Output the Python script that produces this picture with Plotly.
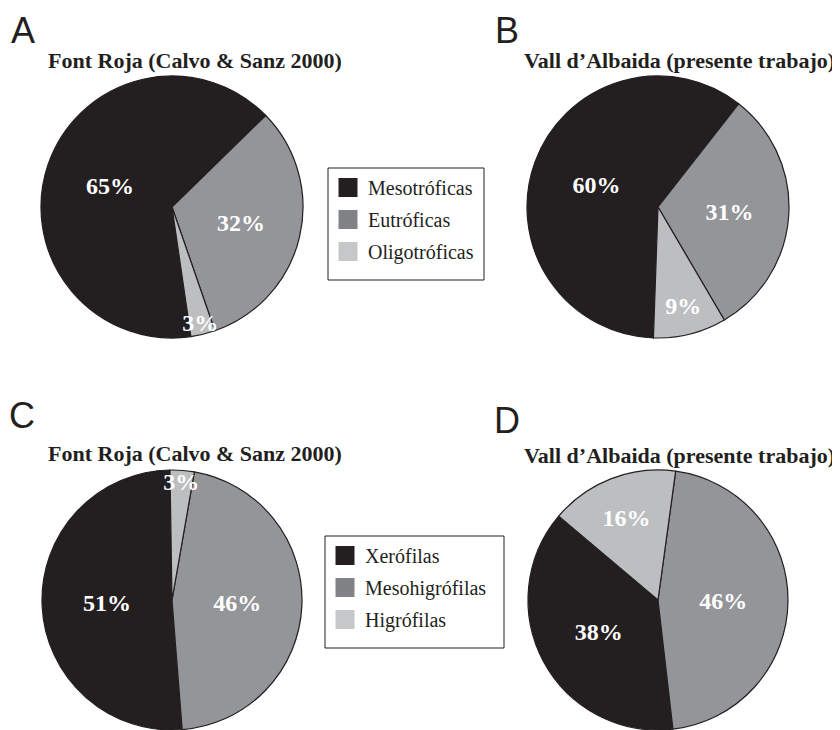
import plotly.graph_objects as go

# ---- data ----
trophic_labels = ["Mesotróficas", "Eutróficas", "Oligotróficas"]
font_roja_trophic = [65, 32, 3]
vall_trophic = [60, 31, 9]

humidity_labels = ["Xerófilas", "Mesohigrófilas", "Higrófilas"]
font_roja_humidity = [51, 46, 3]
vall_humidity = [38, 46, 16]

titles = ["Font Roja (Calvo & Sanz 2000)", "Vall d\u2019Albaida (presente trabajo)",
          "Font Roja (Calvo & Sanz 2000)", "Vall d\u2019Albaida (presente trabajo)"]
panel_letters = ["A", "B", "C", "D"]

# ---- style ----
W, H = 840, 730
OFF = 8  # page body margin offset
pie_colors = ["#231f20", "#939598", "#bcbec0"]
legend_colors = ["#231f20", "#808285", "#c6c7c9"]
SERIF = "Liberation Serif"
SANS = "Liberation Sans"
INK = "#231f20"

def px(x):
    return (x - OFF) / W

def py(y):
    return 1 - (y - OFF) / H

def dom(cx, cy, r):
    return dict(x=[px(cx - r), px(cx + r)], y=[py(cy + r), py(cy - r)])

panels = [
    (trophic_labels, font_roja_trophic, dom(172, 207, 131), "clockwise", 171.7),
    (trophic_labels, vall_trophic, dom(658, 207, 131), "clockwise", -178),
    (humidity_labels, font_roja_humidity, dom(172, 600, 130), "counterclockwise", 175.5),
    (humidity_labels, vall_humidity, dom(658, 600, 130), "counterclockwise", 173.4),
]

fig = go.Figure()
for labels, vals, d, direction, rot in panels:
    fig.add_trace(go.Pie(
        labels=labels, values=vals, domain=d, sort=False,
        direction=direction, rotation=rot, showlegend=False,
        marker=dict(colors=pie_colors, line=dict(color=INK, width=1.2)),
        texttemplate="%{value}%", textposition="inside",
        insidetextorientation="horizontal",
        textfont=dict(family=SERIF, size=24, color="white", weight="bold"),
        hoverinfo="label+value",
    ))

# legend entries (square markers)
for legname, labs in (("legend", trophic_labels), ("legend2", humidity_labels)):
    for lab, col in zip(labs, legend_colors):
        fig.add_trace(go.Scatter(x=[None], y=[None], mode="markers", name=lab,
                                 legendgroup=legname + lab,
                                 marker=dict(symbol="square", size=16, color=col,
                                             line=dict(color=col, width=3)),
                                 legend=legname, hoverinfo="skip"))

legend_style = dict(xanchor="left", yanchor="top", borderwidth=0,
                    bgcolor="rgba(0,0,0,0)", font=dict(family=SERIF, size=20, color=INK),
                    itemclick=False, itemdoubleclick=False, tracegroupgap=3)

# legend frames
frames = [(328, 168, 484, 280), (325, 536, 504, 648)]
shapes = [dict(type="rect", xref="paper", yref="paper",
               x0=px(x0), x1=px(x1), y0=py(y1), y1=py(y0),
               line=dict(color=INK, width=1), fillcolor="rgba(0,0,0,0)", layer="below")
          for x0, y0, x1, y1 in frames]

# titles and panel letters
title_pos = [(195, 61), (679, 61), (195, 453), (679, 455)]
annotations = []
for t, (x, y) in zip(titles, title_pos):
    annotations.append(dict(text=t, x=px(x), y=py(y), xref="paper", yref="paper",
                            xanchor="center", yanchor="middle", showarrow=False,
                            font=dict(family=SERIF, size=22, color=INK, weight="bold")))
letter_pos = [(23, None), (507, None), (22, 415), (507, 420)]
for t, (x, y) in zip(panel_letters, letter_pos):
    if y is None:
        yv, ya = 1.0, "top"
    else:
        yv, ya = py(y), "middle"
    annotations.append(dict(text=t, x=px(x), y=yv, xref="paper", yref="paper",
                            xanchor="center", yanchor=ya, showarrow=False,
                            font=dict(family=SANS, size=36, color=INK)))

fig.update_layout(
    width=W, height=H, margin=dict(l=0, r=0, t=0, b=0),
    paper_bgcolor="white", plot_bgcolor="white",
    xaxis=dict(visible=False), yaxis=dict(visible=False),
    legend=dict(x=px(328), y=py(168), **legend_style),
    legend2=dict(x=px(325), y=py(536), **legend_style),
    uniformtext=dict(minsize=24, mode="show"),
    shapes=shapes,
    annotations=annotations,
)

fig.write_html("out.html")
